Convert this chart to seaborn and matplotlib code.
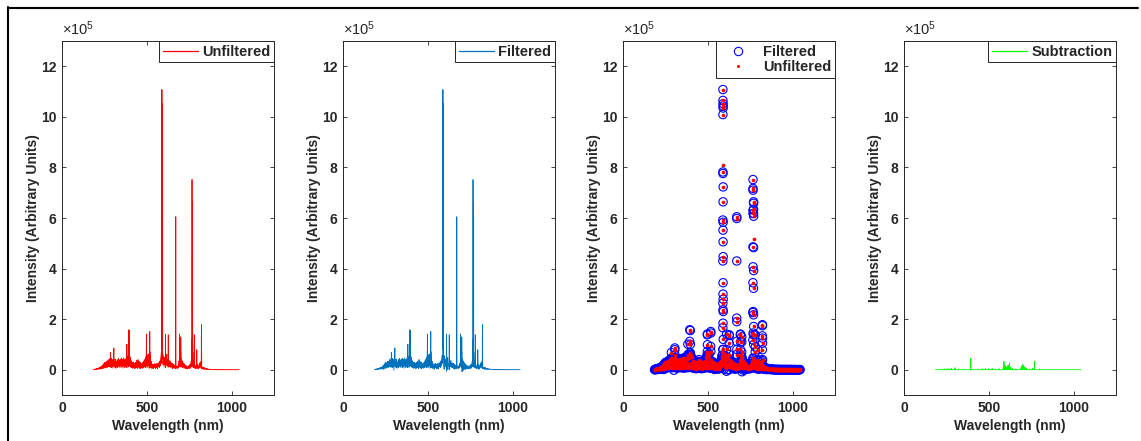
import numpy as np
import matplotlib
matplotlib.use("Agg")
import matplotlib.pyplot as plt
from matplotlib.lines import Line2D
import seaborn as sns

# ---- spectrum data -------------------------------------------------------
# Noise floor / weak lines sampled every 2 nm starting at 186 nm (units: 1e3 counts)
grid_start_nm = 186
grid_step_nm = 2
background_k = [
    0, 1, 0, 2, 1, 3, 1, 2, 4, 1, 5, 2, 3, 6, 2, 4, 8, 3, 9, 2, 10, 4, 12, 3, 14,
    5, 18, 4, 12, 22, 6, 25, 9, 16, 28, 7, 20, 30, 11, 33, 8, 26, 36, 12, 22, 40, 14, 38, 10, 45,
    15, 38, 8, 45, 22, 12, 40, 6, 30, 48, 14, 28, 10, 36, 42, 18, 6, 34, 28, 12, 40, 8, 30, 20, 44,
    12, 38, 25, 8, 42, 18, 32, 10, 45, 24, 14, 40, 6, 30, 48, 16, 36, 9, 42, 22, 12, 46, 28, 8, 44,
    20, 52, 10, 45, 55, 15, 60, 28, 12, 50, 24, 8, 35, 14, 30, 6, 26, 10, 30, 7, 24, 16, 4, 28, 10,
    28, 8, 36, 14, 22, 5, 40, 18, 10, 33, 6, 26, 12, 30, 4, 20, 9, 25, 14, 6, 28, 11, 32, 8, 36,
    12, 40, 20, 50, 8, 58, 30, 15, 55, 10, 45, 62, 18, 35, 6, 30, 14, 38, 9, 26, 12, 32, 5, 22, 10,
    6, 20, 4, 15, 25, 8, 12, 22, 5, 18, 10, 24, 7, 16, 3, 26, 12, 20, 30, 9, 28, 35, 15, 45, 55,
    70, 25, 80, 40, 65, 20, 55, 30, 12, 48, 22, 40, 8, 50, 18, 45, 60, 15, 42, 25, 10, 38, 20, 32, 14,
    36, 10, 30, 18, 8, 27, 12, 25, 5, 20, 14, 22, 6, 16, 10, 18, 4, 19, 12, 8, 15, 5, 11, 14, 6,
    22, 8, 35, 15, 48, 12, 40, 25, 10, 42, 18, 35, 8, 30, 20, 12, 26, 6, 22, 14, 18, 5, 16, 9, 15,
    4, 14, 9, 3, 10, 15, 6, 16, 19, 5, 22, 8, 25, 34, 12, 46, 18, 44, 10, 28, 35, 8, 20, 26, 6,
    15, 4, 13, 18, 6, 16, 22, 5, 19, 12, 3, 13, 20, 26, 8, 31, 14, 19, 5, 14, 9, 3, 8, 10, 2,
    9, 2, 8, 5, 1, 4, 6, 1, 5, 3, 2, 4, 1, 2, 3, 1, 2, 1, 2, 1, 1, 2, 1, 1, 1,
    1, 0, 1, 1, 0, 1, 0, 1, 1, 0, 1, 0, 1, 0, 0, 1, 0, 1, 0, 0, 1, 0, 0, 1, 0,
    0, 1, 0, 0, 1, 0, 0, 0, 1, 0, 0, 1, 0, 0, 0, 1, 0, 0, 0, 1, 0, 0, 0, 0, 1,
    0, 0, 1, 0, 0, 0, 0, 1, 0, 0, 0, 0, 1, 0, 0, 0, 0, 0, 1, 0, 0, 0, 0, 0, 0,
    0, 0, 0, 1, 0,
]

# Emission line profiles (wavelength in nm, intensity in 1e3 counts)
line_nm = [
    250.2, 250.5, 250.8,
    284.9, 285.2, 285.5,
    305.1, 305.4, 305.7, 306.0, 306.3,
    382.0, 382.3, 382.6,
    393.0, 393.2, 393.4, 393.6, 393.8,
    396.5, 396.8, 397.1, 397.4,
    497.1, 497.4, 497.7, 498.0, 498.3,
    517.1, 517.4, 517.7, 518.0,
    588.5, 588.6, 588.7, 588.8, 588.9, 589.0, 589.1, 589.2, 589.3, 589.4, 589.5, 589.6, 589.7,
    589.8, 589.9, 590.0, 590.1, 590.2, 590.3, 590.4, 590.5, 590.6, 590.7, 590.8, 590.9, 591.1,
    610.0, 610.3, 610.6,
    626.1, 626.4, 626.7, 627.0,
    670.3, 670.5, 670.6, 670.7, 670.8, 670.9, 671.0, 671.2,
    692.0, 692.3, 692.6, 692.9, 693.2,
    699.8, 700.1, 700.4, 700.7,
    765.8, 766.0, 766.2, 766.3, 766.4, 766.5, 766.6, 766.7, 766.8, 766.9, 767.0, 767.2,
    769.3, 769.5, 769.6, 769.7, 769.8, 769.9, 770.0, 770.1, 770.2, 770.3, 770.4, 770.6,
    779.7, 780.0, 780.3,
    794.5, 794.8, 795.1,
    821.4, 821.6, 821.8, 822.0, 822.2, 822.4, 822.6, 822.8,
]
line_k = [
    14, 29, 13,
    30, 68, 34,
    40, 79, 86, 59, 30,
    55, 101, 60,
    50, 112, 158, 112, 60,
    67, 155, 100, 50,
    72, 138, 141, 99, 60,
    92, 151, 145, 72,
    80, 166, 263, 430, 592, 782, 1009, 1108, 1065, 809, 552, 299, 237,
    184, 344, 506, 664, 1043, 1052, 1035, 723, 583, 447, 279, 230, 120,
    60, 141, 80,
    105, 138, 135, 60,
    60, 112, 204, 430, 605, 598, 190, 80,
    80, 141, 138, 110, 60,
    70, 130, 110, 50,
    118, 226, 344, 486, 631, 710, 752, 717, 618, 407, 230, 145,
    138, 217, 322, 516, 618, 664, 658, 634, 607, 392, 171, 100,
    70, 138, 90,
    40, 79, 36,
    36, 79, 134, 178, 174, 125, 105, 40,
]

# Difference between the raw and the filtered spectrum (nm, 1e3 counts)
residual_nm = [
    230, 240, 250, 260, 270, 280, 300, 302, 320, 350, 393.6, 440, 460, 480, 500, 520,
    540, 560, 586, 589.4, 594, 596, 600, 604, 610, 614, 618, 622, 626, 630, 640, 660,
    690, 694, 698, 700, 702, 706, 710, 716, 720, 740, 760, 769.7, 800,
]
residual_k = [
    2, 3, 3, 4, 3, 5, 8, 6, 3, 2, 46, 3, 4, 5, 4, 5,
    3, 4, 12, 33, 15, 18, 12, 8, 14, 18, 12, 26, 10, 8, 6, 4,
    8, 14, 20, 16, 18, 12, 10, 8, 6, 3, 6, 33, 3,
]

# ---- assemble series -------------------------------------------------------
grid_nm = grid_start_nm + grid_step_nm * np.arange(len(background_k))
wl = np.concatenate([grid_nm.astype(float), np.asarray(line_nm, float)])
raw = np.concatenate([np.asarray(background_k, float), np.asarray(line_k, float)])
order = np.argsort(wl, kind="stable")
wl = wl[order]
unfiltered = raw[order] * 1e3

res_lookup = {round(float(w), 1): v for w, v in zip(residual_nm, residual_k)}
subtraction = np.array([res_lookup.get(round(float(w), 1), 0) for w in wl]) * 1e3
filtered = unfiltered - subtraction

# ---- styling ---------------------------------------------------------------
sns.set_style("ticks")
plt.rcParams["font.family"] = ["Liberation Sans", "DejaVu Sans"]
plt.rcParams["mathtext.fontset"] = "custom"
plt.rcParams["mathtext.rm"] = "Liberation Sans"
plt.rcParams["mathtext.default"] = "regular"

AX_COLOR = "#262626"
FS = 10
RED, MBLUE, BLUE, GREEN = "#FF0000", "#0072BD", "#0000FF", "#00FF00"

fig = plt.figure(figsize=(11.41, 4.41), dpi=100)
fig.patch.set_facecolor("white")

lefts_px = [62, 343, 623, 904]
ax_w, ax_h = 212 / 1141, 354 / 441
ax_b = (441 - 395) / 441
axes = [fig.add_axes([l / 1141, ax_b, ax_w, ax_h]) for l in lefts_px]


def style_axis(ax):
    ax.set_xlim(0, 1250)
    ax.set_ylim(-1e5, 13e5)
    ax.set_xticks([0, 500, 1000])
    ax.set_xticklabels(["0", "500", "1000"])
    yt = np.arange(0, 13, 2)
    ax.set_yticks(yt * 1e5)
    ax.set_yticklabels([str(v) for v in yt])
    ax.tick_params(direction="in", top=True, right=True, length=3, width=0.6,
                   colors=AX_COLOR, labelsize=FS, pad=4)
    for lab in ax.get_xticklabels() + ax.get_yticklabels():
        lab.set_fontweight("bold")
    for sp in ax.spines.values():
        sp.set_color(AX_COLOR)
        sp.set_linewidth(0.7)
        sp.set_visible(True)
    ax.set_xlabel("Wavelength (nm)", fontsize=FS, fontweight="bold", color=AX_COLOR, labelpad=3)
    ax.set_ylabel("Intensity (Arbitrary Units)", fontsize=FS, fontweight="bold", color=AX_COLOR, labelpad=1)
    ax.annotate("×10$^{5}$", xy=(0, 1), xycoords="axes fraction", xytext=(0, 2),
                textcoords="offset points", ha="left", va="bottom", fontsize=10.5, color=AX_COLOR)


def add_legend(ax, handles, labels, **kw):
    leg = ax.legend(handles, labels, loc="upper right", borderaxespad=0, fancybox=False,
                    framealpha=1, edgecolor=AX_COLOR, prop={"weight": "bold", "size": FS + 0.5},
                    borderpad=0.25, labelspacing=0.1, **kw)
    leg.get_frame().set_linewidth(0.7)
    return leg


def line_handle(color):
    return Line2D([], [], color=color, lw=0.9)


# Panel 1: raw spectrum
ax = axes[0]
sns.lineplot(x=wl, y=unfiltered, ax=ax, color=RED, lw=0.6, estimator=None,
             sort=False, legend=False)
style_axis(ax)
add_legend(ax, [line_handle(RED)], ["Unfiltered"], handlelength=2.4, handletextpad=0.3)

# Panel 2: filtered spectrum
ax = axes[1]
sns.lineplot(x=wl, y=filtered, ax=ax, color=MBLUE, lw=0.6, estimator=None,
             sort=False, legend=False)
style_axis(ax)
add_legend(ax, [line_handle(MBLUE)], ["Filtered"], handlelength=2.4, handletextpad=0.3)

# Panel 3: both spectra as points
ax = axes[2]
sns.scatterplot(x=wl, y=filtered, ax=ax, marker="o", s=36, color=BLUE,
                linewidth=0.8, legend=False)
circ = ax.collections[-1]
circ.set_facecolor("none")
circ.set_edgecolor(BLUE)
sns.scatterplot(x=wl, y=unfiltered, ax=ax, marker="o", s=7, color=RED,
                linewidth=0, legend=False)
style_axis(ax)
h_f = Line2D([], [], ls="none", marker="o", ms=6, mfc="none", mec=BLUE, mew=0.8)
h_u = Line2D([], [], ls="none", marker="o", ms=2.2, mfc=RED, mec="none")
add_legend(ax, [h_f, h_u], ["Filtered", "Unfiltered"], handlelength=2.6, handletextpad=0.4)

# Panel 4: difference
ax = axes[3]
sns.lineplot(x=wl, y=subtraction, ax=ax, color=GREEN, lw=0.6, estimator=None,
             sort=False, legend=False)
style_axis(ax)
add_legend(ax, [line_handle(GREEN)], ["Subtraction"], handlelength=2.4, handletextpad=0.3)

# Outer frame lines along the left and top edges
fig.add_artist(Line2D([7.5 / 1141, 7.5 / 1141], [0, 1 - 7 / 441], transform=fig.transFigure,
                      color="black", lw=1.5))
fig.add_artist(Line2D([7.5 / 1141, 1137.5 / 1141], [1 - 7.5 / 441, 1 - 7.5 / 441],
                      transform=fig.transFigure, color="black", lw=1.5))

fig.savefig("out.png", dpi=100, facecolor="white")
